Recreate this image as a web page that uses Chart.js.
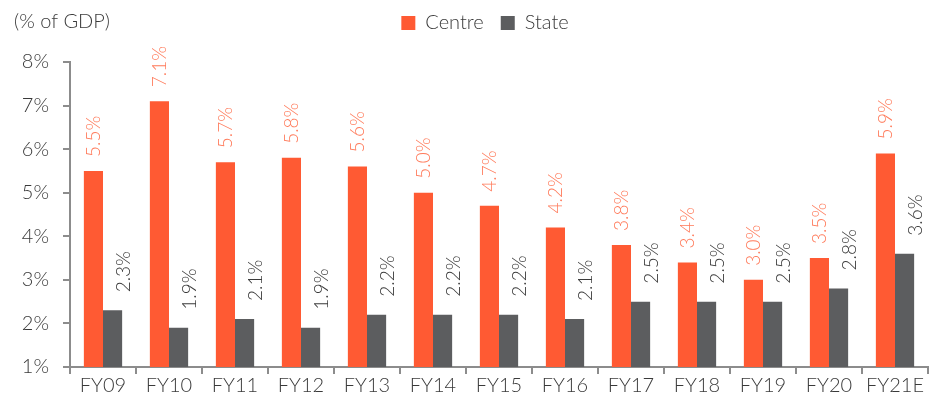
<!DOCTYPE html>
<html>
<head>
<meta charset="utf-8">
<script src="https://cdn.jsdelivr.net/npm/chart.js@4"></script>
<style>
  html, body { margin: 0; padding: 0; background: #fff; }
  #wrap { width: 942px; height: 408px; position: relative; }
</style>
</head>
<body>
<div id="wrap"><canvas id="deficit-chart"></canvas></div>
<script>
const years = ['FY09', 'FY10', 'FY11', 'FY12', 'FY13', 'FY14', 'FY15', 'FY16', 'FY17', 'FY18', 'FY19', 'FY20', 'FY21E'];
const centre = [5.5, 7.1, 5.7, 5.8, 5.6, 5.0, 4.7, 4.2, 3.8, 3.4, 3.0, 3.5, 5.9];
const state = [2.3, 1.9, 2.1, 1.9, 2.2, 2.2, 2.2, 2.1, 2.5, 2.5, 2.5, 2.8, 3.6];

const FONT = 'Lato';
const textColor = '#3a3a3a';

// rotated value labels above bars
const barLabels = {
    id: 'barLabels',
    afterDatasetsDraw(chart) {
        const ctx = chart.ctx;
        const styles = [
            {color: '#ff7a5a', dx: 0, gap: 14},
            {color: '#3a3a3a', dx: 11, gap: 18}
        ];
        chart.data.datasets.forEach((ds, i) => {
            const meta = chart.getDatasetMeta(i);
            const st = styles[i];
            meta.data.forEach((bar, j) => {
                ctx.save();
                ctx.translate(bar.x + st.dx, bar.y - st.gap);
                ctx.rotate(-Math.PI / 2);
                ctx.font = '300 19px ' + FONT;
                ctx.fillStyle = st.color;
                ctx.textAlign = 'left';
                ctx.textBaseline = 'middle';
                ctx.fillText(ds.data[j].toFixed(1) + '%', 0, 0);
                ctx.restore();
            });
        });
    }
};

const unitNote = {
    id: 'unitNote',
    afterDraw(chart) {
        const ctx = chart.ctx;
        ctx.save();
        ctx.font = '300 20px ' + FONT;
        ctx.fillStyle = textColor;
        ctx.textAlign = 'left';
        ctx.textBaseline = 'middle';
        ctx.fillText('(% of GDP)', 14, 22);
        ctx.restore();
    }
};

// extra room under the legend, and nudge it into place
const legendGap = {
    id: 'legendGap',
    afterInit(chart) {
        const legend = chart.legend;
        const fit = legend.fit;
        legend.fit = function () {
            fit.call(this);
            this.height += 13;
        };
        const draw = legend.draw;
        legend.draw = function () {
            const c = this.ctx;
            c.save();
            c.translate(21, -6);
            draw.call(this);
            c.restore();
        };
    }
};

const ctx = document.getElementById('deficit-chart').getContext('2d');

const chart = new Chart(ctx, {
    type: 'bar',
    data: {
        labels: years,
        datasets: [
            {
                label: 'Centre',
                data: centre,
                backgroundColor: '#ff5a33',
                categoryPercentage: 0.58,
                barPercentage: 1.0
            },
            {
                label: 'State',
                data: state,
                backgroundColor: '#5c5d5f',
                categoryPercentage: 0.58,
                barPercentage: 1.0
            }
        ]
    },
    options: {
        responsive: true,
        maintainAspectRatio: false,
        animation: false,
        layout: {
            padding: {left: 0, right: 14, top: 2, bottom: 10}
        },
        scales: {
            x: {
                grid: {
                    offset: true,
                    drawOnChartArea: false,
                    drawTicks: true,
                    tickLength: 7,
                    color: '#8c8c8c',
                    lineWidth: 2
                },
                border: {color: '#8c8c8c', width: 2},
                ticks: {
                    color: textColor,
                    font: {family: FONT, size: 20, weight: '300'},
                    padding: 0,
                    maxRotation: 0
                }
            },
            y: {
                min: 1,
                max: 8,
                afterFit: (scale) => { scale.width = 70; },
                grid: {
                    drawOnChartArea: false,
                    drawTicks: true,
                    tickLength: 7,
                    color: '#8c8c8c',
                    lineWidth: 2
                },
                border: {color: '#8c8c8c', width: 2},
                ticks: {
                    stepSize: 1,
                    color: textColor,
                    font: {family: FONT, size: 20, weight: '300'},
                    padding: 14,
                    callback: (v) => v + '%'
                }
            }
        },
        plugins: {
            legend: {
                position: 'top',
                align: 'center',
                labels: {
                    color: textColor,
                    font: {family: FONT, size: 20, weight: '300'},
                    boxWidth: 14,
                    boxHeight: 14,
                    padding: 17
                }
            },
            tooltip: {enabled: false}
        }
    },
    plugins: [barLabels, unitNote, legendGap]
});
</script>
</body>
</html>
